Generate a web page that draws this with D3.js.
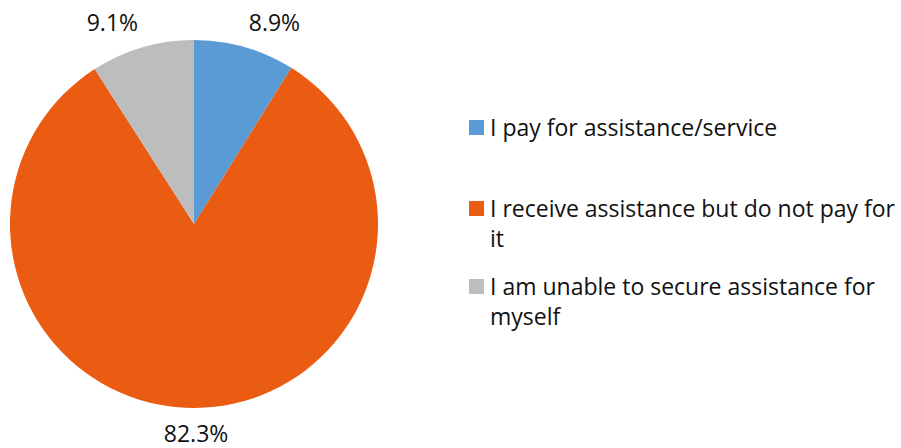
<!DOCTYPE html>
<html>
<head>
<meta charset="utf-8">
<script src="https://cdn.jsdelivr.net/npm/d3@7"></script>
<style>
  html, body { margin: 0; padding: 0; background: #fff; }
  svg { display: block; }
  text { font-family: "Open Sans", "Noto Sans", sans-serif; fill: #111; }
</style>
</head>
<body>
<svg id="chart" width="901" height="448"></svg>
<script>
// Share of respondents by how they obtain assistance
const categories = [
  "I pay for assistance/service",
  "I receive assistance but do not pay for it",
  "I am unable to secure assistance for myself"
];
const values = [8.9, 82.3, 9.1];
const valueLabels = ["8.9%", "82.3%", "9.1%"];
const colors = ["#5B9BD5", "#E95C12", "#BDBDBD"];
// Legend entries as they wrap onto lines
const legendLines = [
  ["I pay for assistance/service"],
  ["I receive assistance but do not pay for", "it"],
  ["I am unable to secure assistance for", "myself"]
];

const svg = d3.select("#chart");
const cx = 194, cy = 224, radius = 184;

const pie = d3.pie().sort(null).value(d => d);
const arcs = pie(values);
const arc = d3.arc().innerRadius(0).outerRadius(radius);

const g = svg.append("g").attr("transform", `translate(${cx},${cy})`);

g.selectAll("path.slice")
  .data(arcs)
  .join("path")
  .attr("class", "slice")
  .attr("d", arc)
  .attr("fill", (d, i) => colors[i]);

// Data labels placed just outside the rim, box pushed away from the pie
const labelFont = 23;
const labelGap = 15;
const labels = g.selectAll("text.value")
  .data(arcs)
  .join("text")
  .attr("class", "value")
  .attr("font-size", labelFont)
  .attr("text-anchor", "middle")
  .text((d, i) => valueLabels[i]);

labels.each(function(d) {
  const node = d3.select(this);
  const w = this.getComputedTextLength();
  const h = labelFont * 0.9;
  const a = (d.startAngle + d.endAngle) / 2;
  const s = Math.sin(a), c = Math.cos(a);
  const R = radius + labelGap;
  const ax = R * s, ay = -R * c;
  const dx = (w / 2) * Math.sign(s) * Math.min(1, Math.abs(s) * 4);
  const dy = -(h / 2) * c;
  node.attr("x", ax + dx).attr("y", ay + dy).attr("dy", "0.36em");
});

// Legend
const legendX = 469, legendTextX = 490;
const legendRowY = [136, 217, 295];
const legendFont = 23;
const lineHeight = 30;
const sw = 15;

const legend = svg.append("g").attr("class", "legend");
const items = legend.selectAll("g.item")
  .data(categories)
  .join("g")
  .attr("class", "item");

items.append("rect")
  .attr("x", legendX)
  .attr("y", (d, i) => legendRowY[i] - 16)
  .attr("width", sw)
  .attr("height", sw)
  .attr("fill", (d, i) => colors[i]);

items.append("text")
  .attr("font-size", legendFont)
  .attr("y", (d, i) => legendRowY[i])
  .each(function(d, i) {
    const t = d3.select(this);
    legendLines[i].forEach((line, j) => {
      t.append("tspan")
        .attr("x", legendTextX)
        .attr("y", legendRowY[i] + j * lineHeight)
        .text(line);
    });
  });
</script>
</body>
</html>
